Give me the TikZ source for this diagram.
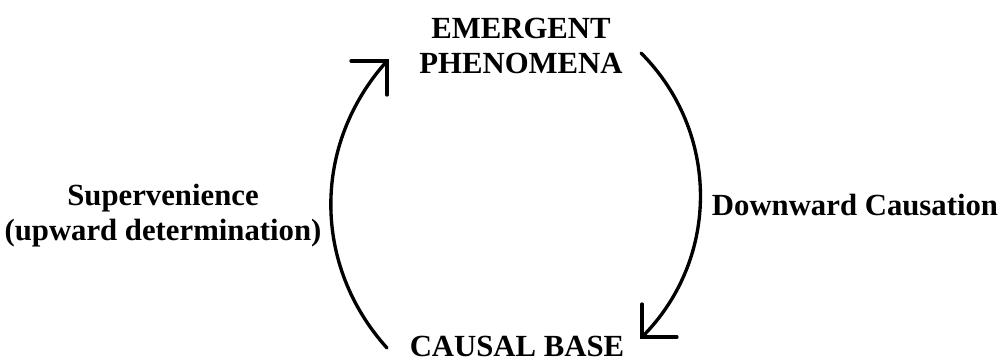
\documentclass[tikz,border=0pt]{standalone}
\usepackage{fontspec}
\setmainfont{Liberation Serif}
\usetikzlibrary{arrows.meta,positioning,calc}

\begin{document}
\begin{tikzpicture}[x=0.02cm, y=0.02cm,
  lbl/.style={font=\fontsize{17.5}{20}\selectfont\bfseries, align=center, inner sep=0pt},
  flow/.style={line width=1.9pt, line cap=round},
  head/.style={line width=1.9pt, line cap=round, line join=miter},
]
  \useasboundingbox (0,0) rectangle (1000,360);

  % --- the two levels ---------------------------------------------------
  \node[lbl, anchor=north] (emerg) at (521,342) {EMERGENT\\ PHENOMENA};
  \node[lbl, anchor=base] (cbase) at (517,4) {CAUSAL BASE};

  % --- labels of the two arcs ------------------------------------------
  \node[lbl, anchor=north] (superv) at (163,176) {Supervenience\\ (upward determination)};
  \node[lbl, anchor=base] (down) at (855,145) {Downward Causation};

  % --- free ends of the arcs -------------------------------------------
  \coordinate (lb) at (387,12);
  \coordinate (lt) at (387,299);
  \coordinate (rt) at (641,307);
  \coordinate (rb) at (642,23);

  % upward: causal base to emergent phenomena
  \draw[flow] (lb) to[out=132, in=228] (lt);
  \draw[head] (lt) ++(-36,0) -- (lt) -- ++(0,-34);

  % downward: emergent phenomena to causal base
  \draw[flow] (rt) to[out=-45, in=45] (rb);
  \draw[head] (rb) ++(0,33) -- (rb) -- ++(35,0);
\end{tikzpicture}
\end{document}
